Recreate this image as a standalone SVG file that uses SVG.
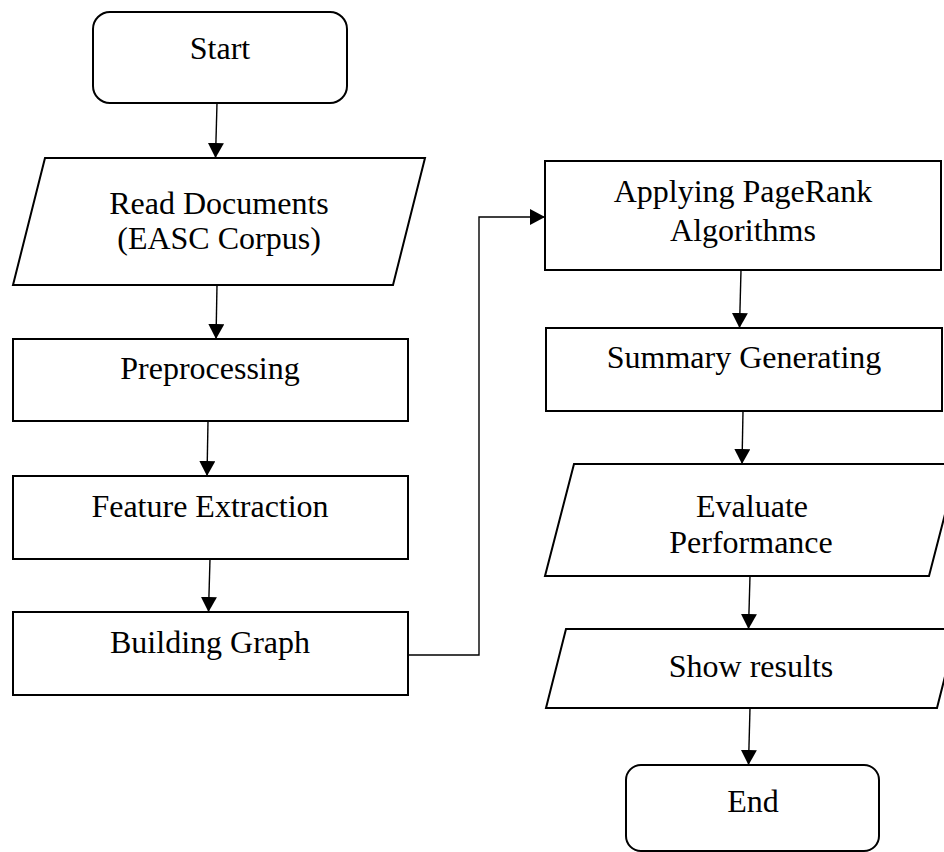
<svg xmlns="http://www.w3.org/2000/svg" width="944" height="852" viewBox="0 0 944 852">
<style>
.box{fill:#fff;stroke:#000;stroke-width:2}
.lbl{font-family:"Liberation Serif","Times New Roman",serif;font-size:32px;fill:#000;text-anchor:middle}
.con{fill:none;stroke:#000;stroke-width:1.4}
</style>
<defs>
<marker id="ah" markerUnits="userSpaceOnUse" markerWidth="16" markerHeight="16" viewBox="0 0 16 16" refX="15" refY="8" orient="auto">
<path d="M0,0 L15,8 L0,16 Z" fill="#000"/>
</marker>
</defs>
<rect width="944" height="852" fill="#fff"/>
<g id="start">
<rect class="box" x="93" y="12" width="254" height="91" rx="17" ry="17"/>
<text class="lbl" x="220" y="59">Start</text>
</g>
<g id="read">
<polygon class="box" points="45,158 425,158 393,285 13,285"/>
<text class="lbl" x="219" y="214">Read Documents</text>
<text class="lbl" x="219" y="249">(EASC Corpus)</text>
</g>
<g id="preprocessing">
<rect class="box" x="13" y="339" width="395" height="82"/>
<text class="lbl" x="210" y="379">Preprocessing</text>
</g>
<g id="feature">
<rect class="box" x="13" y="476" width="395" height="83"/>
<text class="lbl" x="210" y="517">Feature Extraction</text>
</g>
<g id="building">
<rect class="box" x="13" y="612" width="395" height="83"/>
<text class="lbl" x="210" y="653">Building Graph</text>
</g>
<g id="pagerank">
<rect class="box" x="545" y="161" width="396" height="109"/>
<text class="lbl" x="743" y="202">Applying PageRank</text>
<text class="lbl" x="743" y="241">Algorithms</text>
</g>
<g id="summary">
<rect class="box" x="546" y="328" width="396" height="83"/>
<text class="lbl" x="744" y="368">Summary Generating</text>
</g>
<g id="evaluate">
<polygon class="box" points="574,464 958,464 929,576 545,576"/>
<text class="lbl" x="752" y="517">Evaluate</text>
<text class="lbl" x="751" y="553">Performance</text>
</g>
<g id="show">
<polygon class="box" points="566,629 957,629 937,708 546,708"/>
<text class="lbl" x="751" y="677">Show results</text>
</g>
<g id="end">
<rect class="box" x="626" y="765" width="253" height="86" rx="15" ry="15"/>
<text class="lbl" x="753" y="812">End</text>
</g>
<g id="connectors">
<line class="con" x1="217" y1="103" x2="215.5" y2="158" marker-end="url(#ah)"/>
<line class="con" x1="217" y1="285" x2="216" y2="339" marker-end="url(#ah)"/>
<line class="con" x1="208" y1="421" x2="207" y2="476" marker-end="url(#ah)"/>
<line class="con" x1="210" y1="559" x2="208.5" y2="612" marker-end="url(#ah)"/>
<polyline class="con" points="408,655 479,655 479,217 545,217" marker-end="url(#ah)"/>
<line class="con" x1="741" y1="270" x2="739.5" y2="328" marker-end="url(#ah)"/>
<line class="con" x1="743" y1="411" x2="742" y2="464" marker-end="url(#ah)"/>
<line class="con" x1="750" y1="576" x2="748.5" y2="629" marker-end="url(#ah)"/>
<line class="con" x1="750" y1="708" x2="748.5" y2="765" marker-end="url(#ah)"/>
</g>
</svg>
